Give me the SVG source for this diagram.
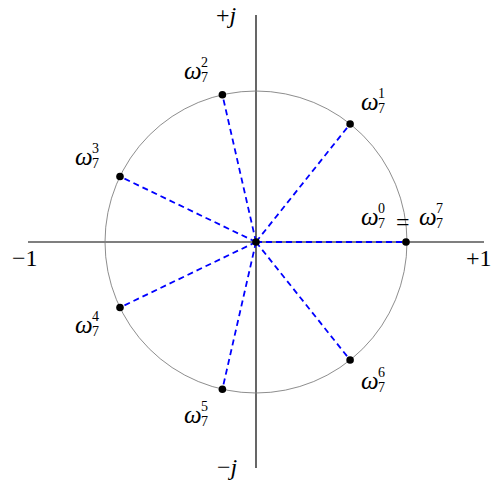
<svg xmlns="http://www.w3.org/2000/svg" width="492" height="480" viewBox="0 0 492 480">
<style>
.ax{stroke:#000;stroke-width:1.2;fill:none}
.circ{stroke:#808080;stroke-width:0.9;fill:none}
.spoke{stroke:#0000ff;stroke-width:1.8;stroke-dasharray:6,4;fill:none}
.pt{fill:#000}
.t{font-family:"Liberation Serif","DejaVu Serif",serif;font-size:24px;fill:#000}
.w{font-family:"Liberation Serif","DejaVu Serif",serif;font-style:italic;font-size:25px;fill:#000}
.s{font-family:"Liberation Serif","DejaVu Serif",serif;font-size:14px;fill:#000}
</style>
<rect width="492" height="480" fill="#fff"/>
<g id="axes">
<line class="ax" x1="28" y1="242" x2="484" y2="242"/>
<line class="ax" x1="256" y1="15" x2="256" y2="468"/>
<circle class="circ" cx="256" cy="242" r="151"/>
</g>
<g id="connectors">
<line class="spoke" x1="256" y1="242" x2="406" y2="242"/>
<line class="spoke" x1="256" y1="242" x2="350.1" y2="124"/>
<line class="spoke" x1="256" y1="242" x2="222.4" y2="94.8"/>
<line class="spoke" x1="256" y1="242" x2="120" y2="176.5"/>
<line class="spoke" x1="256" y1="242" x2="120" y2="307.5"/>
<line class="spoke" x1="256" y1="242" x2="222.4" y2="389.2"/>
<line class="spoke" x1="256" y1="242" x2="350.1" y2="360"/>
</g>
<g id="n-center"><circle class="pt" cx="256" cy="242" r="3.8"/></g>
<g id="n0"><circle class="pt" cx="406" cy="242" r="3.8"/>
<text class="w" x="361" y="225">ω</text><text class="s" x="378" y="213">0</text><text class="s" x="378" y="228">7</text>
<text class="t" x="396" y="230" font-size="36">=</text>
<text class="w" x="419" y="225">ω</text><text class="s" x="436" y="213">7</text><text class="s" x="436" y="228">7</text>
</g>
<g id="n1"><circle class="pt" cx="350.1" cy="124" r="3.8"/>
<text class="w" x="361" y="110">ω</text><text class="s" x="378" y="98">1</text><text class="s" x="378" y="113">7</text></g>
<g id="n2"><circle class="pt" cx="222.4" cy="94.8" r="3.8"/>
<text class="w" x="184" y="79">ω</text><text class="s" x="201" y="67">2</text><text class="s" x="201" y="82">7</text></g>
<g id="n3"><circle class="pt" cx="120" cy="176.5" r="3.8"/>
<text class="w" x="75" y="165">ω</text><text class="s" x="92" y="153">3</text><text class="s" x="92" y="168">7</text></g>
<g id="n4"><circle class="pt" cx="120" cy="307.5" r="3.8"/>
<text class="w" x="75" y="333">ω</text><text class="s" x="92" y="321">4</text><text class="s" x="92" y="336">7</text></g>
<g id="n5"><circle class="pt" cx="222.4" cy="389.2" r="3.8"/>
<text class="w" x="184" y="423">ω</text><text class="s" x="201" y="411">5</text><text class="s" x="201" y="426">7</text></g>
<g id="n6"><circle class="pt" cx="350.1" cy="360" r="3.8"/>
<text class="w" x="361" y="389">ω</text><text class="s" x="378" y="377">6</text><text class="s" x="378" y="392">7</text></g>
<g id="labels">
<text class="t" x="216" y="23">+<tspan font-style="italic">j</tspan></text>
<text class="t" x="217" y="475">−<tspan font-style="italic">j</tspan></text>
<text class="t" x="12" y="266">−1</text>
<text class="t" x="466" y="266">+1</text>
</g>
</svg>
